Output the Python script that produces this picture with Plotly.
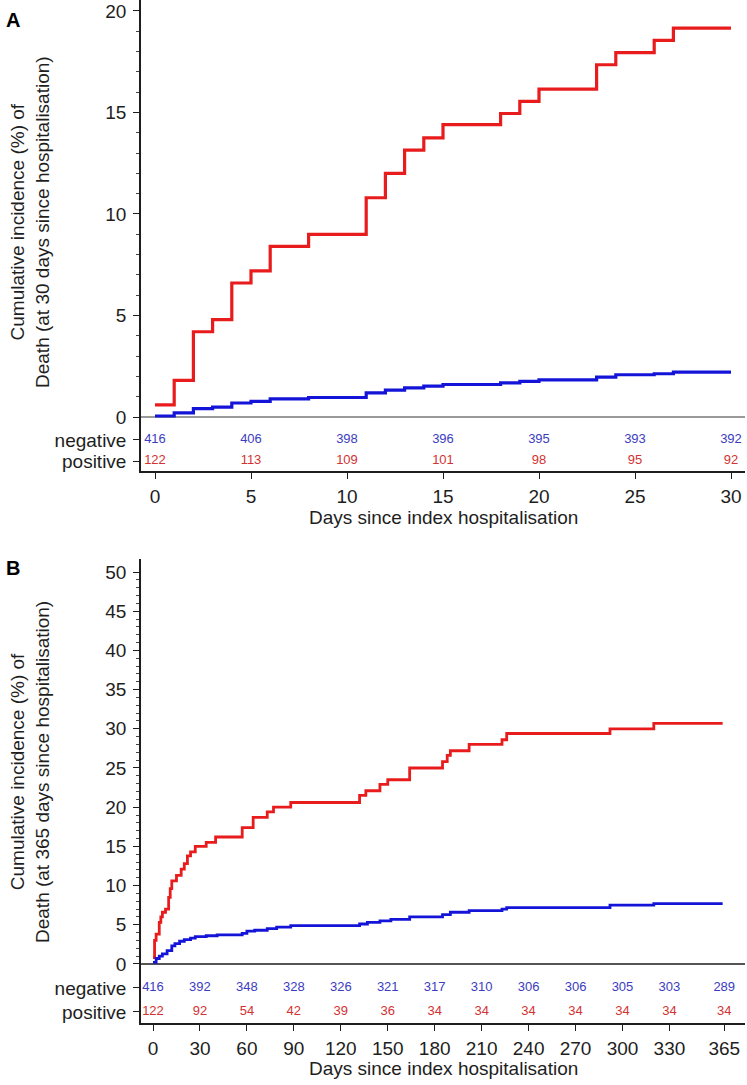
import plotly.graph_objects as go

# ---------------- data ----------------
# Panel A (30 days)
a_days = [0, 1, 2, 3, 4, 5, 6, 8, 11, 12, 13, 14, 15, 18, 19, 20, 23, 24, 26, 27, 30]
a_pos = [0.6, 1.8, 4.2, 4.8, 6.6, 7.2, 8.4, 9.0, 10.8, 12.0, 13.15, 13.75, 14.4, 14.95, 15.55, 16.15, 17.35, 17.95, 18.55, 19.15, 19.15]
a_neg = [0.05, 0.2, 0.41, 0.49, 0.69, 0.77, 0.89, 0.96, 1.19, 1.32, 1.43, 1.52, 1.60, 1.68, 1.75, 1.83, 1.96, 2.08, 2.13, 2.21, 2.21]
a_risk_days = [0, 5, 10, 15, 20, 25, 30]
a_risk_neg = [416, 406, 398, 396, 395, 393, 392]
a_risk_pos = [122, 113, 109, 101, 98, 95, 92]

# Panel B (365 days)
b_pos_days = [0, 1, 2, 4, 5, 6, 8, 10, 11, 12, 15, 18, 20, 22, 24, 27, 34, 40, 57, 64, 73, 77, 88,
              132, 136, 145, 150, 164, 185, 188, 190, 202, 223, 226, 292, 320, 364]
b_pos = [0.8, 3.0, 3.8, 5.3, 6.0, 6.6, 7.0, 8.5, 9.6, 10.6, 11.3, 12.1, 12.8, 13.8, 14.3, 15.0, 15.5, 16.2, 17.4, 18.7, 19.4, 20.0, 20.6,
         21.5, 22.1, 22.9, 23.5, 25.0, 25.8, 26.6, 27.2, 28.0, 28.6, 29.4, 30.0, 30.7, 30.7]
b_neg_days = [0, 2, 4, 6, 9, 12, 14, 17, 20, 24, 27, 34, 41, 57, 60, 65, 73, 79, 88,
              132, 137, 145, 152, 164, 185, 190, 202, 223, 226, 292, 320, 364]
b_neg = [0.2, 0.7, 1.0, 1.3, 1.7, 2.3, 2.6, 2.9, 3.1, 3.3, 3.5, 3.6, 3.7, 3.9, 4.2, 4.3, 4.5, 4.7, 4.9,
         5.1, 5.3, 5.5, 5.7, 6.0, 6.3, 6.6, 6.8, 7.0, 7.2, 7.5, 7.7, 7.7]
b_risk_days = [0, 30, 60, 90, 120, 150, 180, 210, 240, 270, 300, 330, 365]
b_risk_neg = [416, 392, 348, 328, 326, 321, 317, 310, 306, 306, 305, 303, 289]
b_risk_pos = [122, 92, 54, 42, 39, 36, 34, 34, 34, 34, 34, 34, 34]

a_yticks = [0, 5, 10, 15, 20]
b_yticks = [0, 5, 10, 15, 20, 25, 30, 35, 40, 45, 50]
a_xticks = [0, 5, 10, 15, 20, 25, 30]
b_xticks = [0, 30, 60, 90, 120, 150, 180, 210, 240, 270, 300, 330, 365]
row_labels = ["negative", "positive"]

# ---------------- style ----------------
RED = "#e81c1c"
BLUE = "#1414d8"
RISK_BLUE = "#3c3cc0"
RISK_RED = "#d23232"
AX = "#1e1e1e"
FONT = "Liberation Sans, Arial, sans-serif"
NARROW = "Liberation Sans Narrow, Arial Narrow, Liberation Sans, sans-serif"

W, H = 747, 1085
a_rows = [-1.13, -2.17]
b_rows = [-3.06, -6.12]

fig = go.Figure()

# Panel A curves
fig.add_trace(go.Scatter(x=a_days, y=a_pos, mode="lines", line=dict(color=RED, width=3.2, shape="hv"),
                         xaxis="x", yaxis="y", showlegend=False))
fig.add_trace(go.Scatter(x=a_days, y=a_neg, mode="lines", line=dict(color=BLUE, width=3.2, shape="hv"),
                         xaxis="x", yaxis="y", showlegend=False))
fig.add_trace(go.Scatter(x=a_risk_days, y=[a_rows[0]] * len(a_risk_days), mode="text",
                         text=[str(v) for v in a_risk_neg], textfont=dict(color=RISK_BLUE, size=13, family=NARROW),
                         xaxis="x", yaxis="y", showlegend=False))
fig.add_trace(go.Scatter(x=a_risk_days, y=[a_rows[1]] * len(a_risk_days), mode="text",
                         text=[str(v) for v in a_risk_pos], textfont=dict(color=RISK_RED, size=13, family=NARROW),
                         xaxis="x", yaxis="y", showlegend=False))

# Panel B curves
fig.add_trace(go.Scatter(x=b_pos_days, y=b_pos, mode="lines", line=dict(color=RED, width=2.8, shape="hv"),
                         xaxis="x2", yaxis="y2", showlegend=False))
fig.add_trace(go.Scatter(x=b_neg_days, y=b_neg, mode="lines", line=dict(color=BLUE, width=2.8, shape="hv"),
                         xaxis="x2", yaxis="y2", showlegend=False))
fig.add_trace(go.Scatter(x=b_risk_days, y=[b_rows[0]] * len(b_risk_days), mode="text",
                         text=[str(v) for v in b_risk_neg], textfont=dict(color=RISK_BLUE, size=13, family=NARROW),
                         xaxis="x2", yaxis="y2", showlegend=False))
fig.add_trace(go.Scatter(x=b_risk_days, y=[b_rows[1]] * len(b_risk_days), mode="text",
                         text=[str(v) for v in b_risk_pos], textfont=dict(color=RISK_RED, size=13, family=NARROW),
                         xaxis="x2", yaxis="y2", showlegend=False))

xdom = [141 / W, 745 / W]

def xaxis_cfg(rng, ticks, anchor):
    return dict(domain=xdom, range=rng, tickvals=ticks, ticktext=[str(t) for t in ticks],
                showline=True, linecolor=AX, linewidth=1.5, ticks="outside", ticklen=6, tickwidth=1.3,
                tickcolor=AX, tickfont=dict(size=19, family=FONT, color=AX), ticklabelstandoff=1,
                showgrid=False, zeroline=False, anchor=anchor)

def yaxis_cfg(dom, rng, ticks, rows, minor_max, anchor, zcolor):
    minor_vals = [v for v in range(1, minor_max) if v % 5 != 0]
    return dict(domain=dom, range=rng, tickvals=list(reversed(rows)) + ticks,
                ticktext=list(reversed(row_labels)) + [str(t) for t in ticks],
                showline=True, linecolor=AX, linewidth=1.5, ticks="outside", ticklen=6, tickwidth=1.3,
                tickcolor=AX, tickfont=dict(size=19, family=FONT, color=AX), ticklabelstandoff=3,
                showgrid=False, zeroline=True, zerolinecolor=zcolor, zerolinewidth=1.5,
                minor=dict(tickmode="array", tickvals=minor_vals, ticks="outside", ticklen=3,
                           tickwidth=1, tickcolor="#444", showgrid=False),
                anchor=anchor)

fig.update_layout(
    width=W, height=H, margin=dict(l=0, r=0, t=0, b=0),
    paper_bgcolor="white", plot_bgcolor="white",
    font=dict(family=FONT, color=AX),
    xaxis=xaxis_cfg([(141 - 155) / 19.2, (745 - 155) / 19.2], a_xticks, "y"),
    yaxis=yaxis_cfg([1 - 471 / H, 1.0], [-2.66, 20.54], a_yticks, a_rows, 20, "x", "#9a9a9a"),
    xaxis2=xaxis_cfg([(141 - 153) / 1.565, (745 - 153) / 1.565], b_xticks, "y2"),
    yaxis2=yaxis_cfg([1 - 1023 / H, 1 - 559 / H], [-7.53, 51.66], b_yticks, b_rows, 51, "x2", "#555555"),
)

ann = [
    dict(text="<b>A</b>", x=13 / W, y=1 - 20 / H, xref="paper", yref="paper", showarrow=False,
         font=dict(size=20, family=FONT, color="black"), xanchor="center", yanchor="middle"),
    dict(text="<b>B</b>", x=13 / W, y=1 - 568 / H, xref="paper", yref="paper", showarrow=False,
         font=dict(size=20, family=FONT, color="black"), xanchor="center", yanchor="middle"),
    dict(text="Cumulative incidence (%) of<br>Death (at 30 days since hospitalisation)",
         x=30 / W, y=1 - 222 / H, xref="paper", yref="paper", showarrow=False, textangle=-90,
         font=dict(size=19, family=FONT, color=AX), xanchor="center", yanchor="middle"),
    dict(text="Cumulative incidence (%) of<br>Death (at 365 days since hospitalisation)",
         x=30 / W, y=1 - 772 / H, xref="paper", yref="paper", showarrow=False, textangle=-90,
         font=dict(size=19, family=FONT, color=AX), xanchor="center", yanchor="middle"),
    dict(text="Days since index hospitalisation", x=443 / W, y=1 - 517 / H, xref="paper", yref="paper",
         showarrow=False, font=dict(size=19, family=FONT, color=AX), xanchor="center", yanchor="middle"),
    dict(text="Days since index hospitalisation", x=443 / W, y=1 - 1068 / H, xref="paper", yref="paper",
         showarrow=False, font=dict(size=19, family=FONT, color=AX), xanchor="center", yanchor="middle"),
]
fig.update_layout(annotations=ann)

fig.write_html("out.html", config={"displayModeBar": False},
               post_script="document.body.style.margin='0px';document.documentElement.style.overflow='hidden';")
